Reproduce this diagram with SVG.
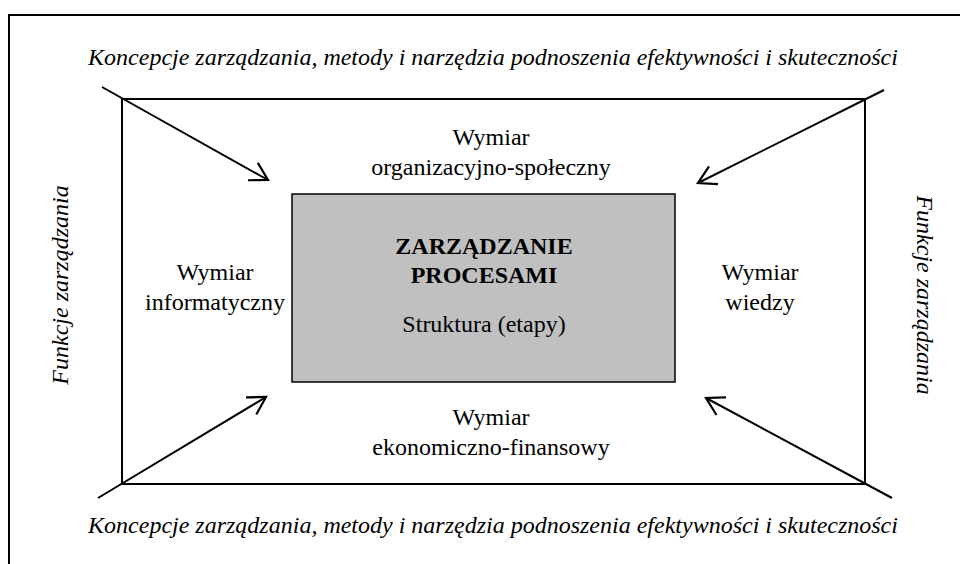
<svg xmlns="http://www.w3.org/2000/svg" width="960" height="564" viewBox="0 0 960 564">
<defs>
<style>
text{font-family:'Liberation Serif','Times New Roman','DejaVu Serif',serif;font-size:24px;fill:#000;text-anchor:middle}
.i{font-style:italic}
.b{font-weight:bold}
.ln{stroke:#000;stroke-width:2;fill:none}
</style>
<marker id="ah" markerUnits="userSpaceOnUse" markerWidth="30" markerHeight="30" viewBox="-25 -15 30 30" refX="0" refY="0" orient="auto">
<path d="M-17.3,-10 L0,0 L-17.3,10" fill="none" stroke="#000" stroke-width="2.2"/>
</marker>
</defs>
<rect width="960" height="564" fill="#fff"/>
<g id="frame">
<path d="M9,564 L9,15 L960,15" class="ln" stroke="#111"/>
</g>
<g id="inner-frame">
<rect x="122" y="99" width="743" height="385" class="ln"/>
</g>
<g id="center-box">
<rect x="292" y="194" width="383" height="188" fill="#c0c0c0" stroke="#000" stroke-width="1.5"/>
<text class="b" x="484" y="254">ZARZĄDZANIE</text>
<text class="b" x="484" y="283">PROCESAMI</text>
<text x="484" y="332">Struktura (etapy)</text>
</g>
<g id="top-label"><text class="i" x="493" y="65">Koncepcje zarządzania, metody i narzędzia podnoszenia efektywności i skuteczności</text></g>
<g id="bottom-label"><text class="i" x="493" y="533">Koncepcje zarządzania, metody i narzędzia podnoszenia efektywności i skuteczności</text></g>
<g id="left-label"><text class="i" transform="translate(68,285) rotate(-90)">Funkcje zarządzania</text></g>
<g id="right-label"><text class="i" transform="translate(917,295) rotate(90)">Funkcje zarządzania</text></g>
<g id="dim-top"><text x="491" y="145">Wymiar</text><text x="491" y="175">organizacyjno-społeczny</text></g>
<g id="dim-left"><text x="215" y="280">Wymiar</text><text x="215" y="310">informatyczny</text></g>
<g id="dim-right"><text x="760" y="280">Wymiar</text><text x="760" y="310">wiedzy</text></g>
<g id="dim-bottom"><text x="491" y="425">Wymiar</text><text x="491" y="455">ekonomiczno-finansowy</text></g>
<g id="connectors">
<line x1="102" y1="87" x2="268" y2="180" class="ln" marker-end="url(#ah)"/>
<line x1="884" y1="90" x2="698" y2="183" class="ln" marker-end="url(#ah)"/>
<line x1="98" y1="498" x2="266" y2="397" class="ln" marker-end="url(#ah)"/>
<line x1="892" y1="498" x2="706" y2="398" class="ln" marker-end="url(#ah)"/>
</g>
</svg>
